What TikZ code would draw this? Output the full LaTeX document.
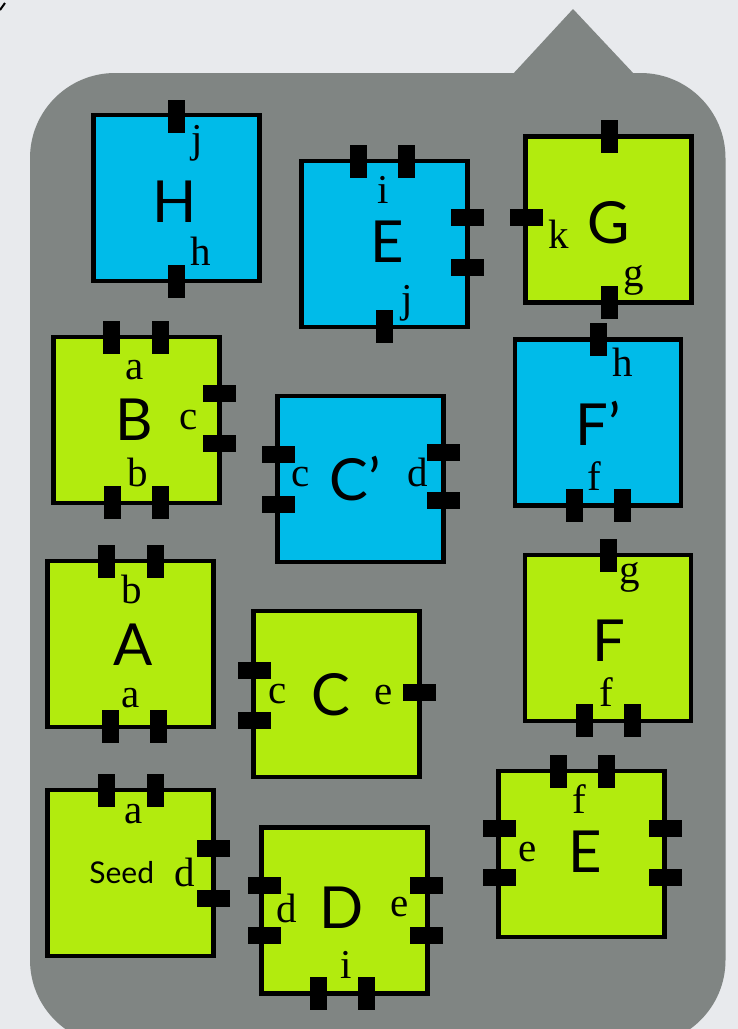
\documentclass[tikz,border=0pt]{standalone}
\usepackage{fontspec}
\setmainfont{Liberation Serif}
\newfontfamily\bigsans{Lato}
\definecolor{bgc}{RGB}{232,234,237}
\definecolor{bubblec}{RGB}{128,133,131}
\definecolor{bluec}{RGB}{0,187,233}
\definecolor{greenc}{RGB}{178,235,14}
\tikzset{
  tile/.style={draw=black, line width=4.5pt, minimum width=166pt, minimum height=166pt, inner sep=0pt},
  bluetile/.style={tile, fill=bluec},
  greentile/.style={tile, fill=greenc},
  vport/.style={fill=black, draw=none, minimum width=17pt, minimum height=33pt, inner sep=0pt},
  hport/.style={fill=black, draw=none, minimum width=33pt, minimum height=17pt, inner sep=0pt},
  lab/.style={anchor=base, inner sep=0pt, font=\fontsize{41}{43}\selectfont},
  big/.style={anchor=base, inner sep=0pt, font=\bigsans\fontsize{58}{60}\selectfont},
  seedlab/.style={anchor=base, inner sep=0pt, font=\bigsans\fontsize{30}{32}\selectfont}
}
\begin{document}
\begin{tikzpicture}[x=1pt,y=-1pt]
\useasboundingbox (0,0) rectangle (738,1029);
\fill[bgc] (0,0) rectangle (738,1029);
\draw[line width=2pt, black] (0,10) -- (5,3);
% bubble
\fill[bubblec, rounded corners=85pt] (30,73) rectangle (725.5,1045);
\fill[bubblec] (512,75) -- (573,9) -- (635,75) -- cycle;

% tiles
\node[bluetile]  (H)  at (176.5,198) {};
\node[bluetile]  (E1) at (384.5,244) {};
\node[greentile] (G)  at (608.3,219.3) {};
\node[greentile] (B)  at (136.3,420) {};
\node[bluetile]  (Cp) at (360.5,478.8) {};
\node[bluetile]  (Fp) at (597.8,422.3) {};
\node[greentile] (A)  at (130.5,644) {};
\node[greentile] (C)  at (336.5,694) {};
\node[greentile] (F)  at (608,638) {};
\node[greentile] (S)  at (130.5,873) {};
\node[greentile] (D)  at (344.3,910.5) {};
\node[greentile] (E2) at (581.5,854) {};

% ports
\node[vport] (H-t)  at (176,116.5) {};
\node[vport] (H-b)  at (176,281) {};
\node[vport] (E1-t1) at (358,161.5) {};
\node[vport] (E1-t2) at (406,161.5) {};
\node[hport] (E1-r1) at (467.5,217) {};
\node[hport] (E1-r2) at (467.5,267) {};
\node[vport] (E1-b)  at (384,326.5) {};
\node[vport] (G-t) at (609,136.5) {};
\node[hport] (G-l) at (526,217) {};
\node[vport] (G-b) at (609,302) {};
\node[vport] (B-t1) at (111,337.5) {};
\node[vport] (B-t2) at (160.7,337.5) {};
\node[hport] (B-r1) at (219.5,393.7) {};
\node[hport] (B-r2) at (219.5,443) {};
\node[vport] (B-b1) at (112.3,502.5) {};
\node[vport] (B-b2) at (160,502.5) {};
\node[hport] (Cp-l1) at (278.3,454.7) {};
\node[hport] (Cp-l2) at (278.3,504.5) {};
\node[hport] (Cp-r1) at (443.5,452.8) {};
\node[hport] (Cp-r2) at (443.5,500.5) {};
\node[vport] (Fp-t)  at (598.3,339.5) {};
\node[vport] (Fp-b1) at (574.3,505) {};
\node[vport] (Fp-b2) at (622.3,505) {};
\node[vport] (A-t1) at (106,561.5) {};
\node[vport] (A-t2) at (155,561.5) {};
\node[vport] (A-b1) at (110.3,726.5) {};
\node[vport] (A-b2) at (158.3,726.5) {};
\node[hport] (C-l1) at (254,670.5) {};
\node[hport] (C-l2) at (254,720.3) {};
\node[hport] (C-r)  at (419.5,692) {};
\node[vport] (F-t)  at (608.3,555.5) {};
\node[vport] (F-b1) at (584.3,720.5) {};
\node[vport] (F-b2) at (632.3,720.5) {};
\node[vport] (S-t1) at (106,790.5) {};
\node[vport] (S-t2) at (155,790.5) {};
\node[hport] (S-r1) at (213.3,848.3) {};
\node[hport] (S-r2) at (213.3,898) {};
\node[hport] (D-l1) at (264,885.5) {};
\node[hport] (D-l2) at (264,935.3) {};
\node[hport] (D-r1) at (426.7,885.5) {};
\node[hport] (D-r2) at (426.7,935.3) {};
\node[vport] (D-b1) at (318,993.5) {};
\node[vport] (D-b2) at (366.3,993.5) {};
\node[vport] (E2-t1) at (558.3,771.5) {};
\node[vport] (E2-t2) at (606.7,771.5) {};
\node[hport] (E2-l1) at (499.5,828) {};
\node[hport] (E2-l2) at (499.5,877.5) {};
\node[hport] (E2-r1) at (665,828) {};
\node[hport] (E2-r2) at (665,877.5) {};

% labels
\node[lab] (H-j) at (197,152) {j};
\node[big] (H-n) at (175,222) {H};
\node[lab] (H-h) at (201,265) {h};

\node[lab] (E1-i) at (383,203) {i};
\node[big] (E1-n) at (387,262) {E};
\node[lab] (E1-j) at (407,312) {j};

\node[lab] (G-k) at (558.3,248.3) {k};
\node[big] (G-n) at (608.3,243.3) {G};
\node[lab] (G-g) at (633.3,286) {g};

\node[lab] (B-a) at (134.3,379) {a};
\node[big] (B-n) at (134.3,440) {B};
\node[lab] (B-c) at (189,429.3) {c};
\node[lab] (B-b) at (137.3,486.7) {b};

\node[lab] (Cp-c) at (301,486.7) {c};
\node[big] (Cp-n) at (355,500) {C’};
\node[lab] (Cp-d) at (417.7,486.7) {d};

\node[lab] (Fp-h) at (622.3,376) {h};
\node[big] (Fp-n) at (598.3,445) {F’};
\node[lab] (Fp-f) at (594.3,490.7) {f};

\node[lab] (A-b) at (131.7,603) {b};
\node[big] (A-n) at (133,665) {A};
\node[lab] (A-a) at (131,707) {a};

\node[lab] (C-c) at (277.7,703) {c};
\node[big] (C-n) at (331,715) {C};
\node[lab] (C-e) at (384,704) {e};

\node[lab] (F-g) at (630,583.5) {g};
\node[big] (F-n) at (609,661.7) {F};
\node[lab] (F-f) at (606.7,706.7) {f};

\node[lab] (S-a) at (134,823.3) {a};
\node[seedlab] (S-n) at (121.7,883) {Seed};
\node[lab] (S-d) at (185,886) {d};

\node[lab] (D-d) at (286.7,922.7) {d};
\node[big] (D-n) at (342,928) {D};
\node[lab] (D-e) at (400,916.7) {e};
\node[lab] (D-i) at (346,978) {i};

\node[lab] (E2-f) at (579,813) {f};
\node[lab] (E2-e) at (527.7,861) {e};
\node[big] (E2-n) at (585,872.7) {E};
\end{tikzpicture}
\end{document}
